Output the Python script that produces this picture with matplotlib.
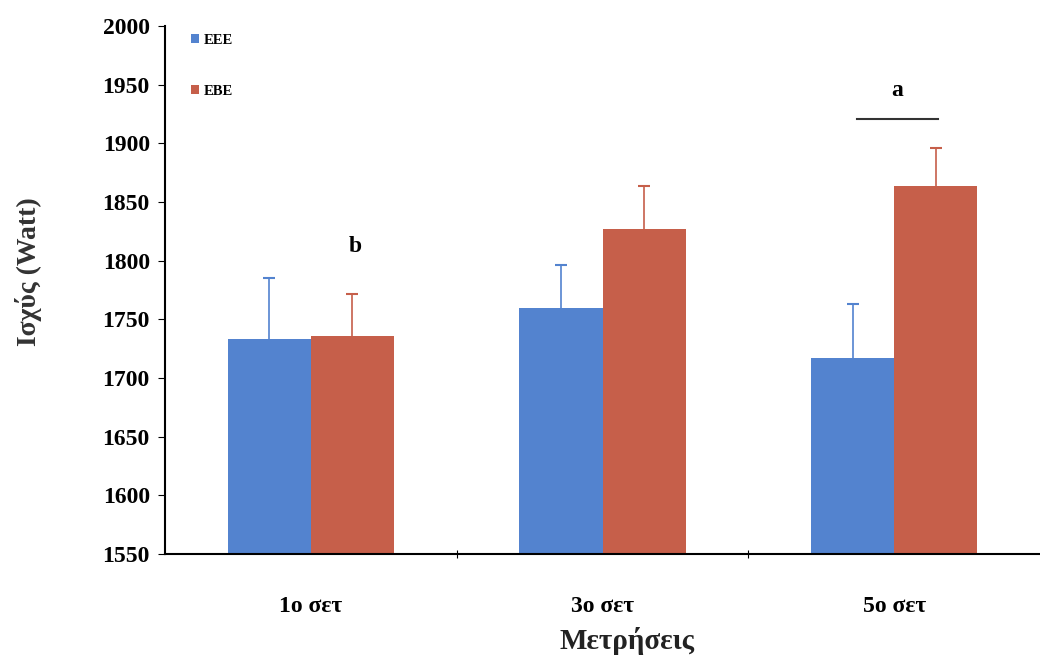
import matplotlib.pyplot as plt
import numpy as np

# Data
categories = ["1ο σετ", "3ο σετ", "5ο σετ"]
eee_means = [1733, 1760, 1717]
eee_err = [52, 36, 46]
ebe_means = [1736, 1827, 1864]
ebe_err = [36, 37, 32]

plt.rcParams['font.family'] = ['Liberation Serif', 'DejaVu Serif']
plt.rcParams['font.weight'] = 'bold'

blue = '#5383CF'
red = '#C65F4A'

fig = plt.figure(figsize=(10.4, 6.66), dpi=100)
ax = fig.add_axes([0.1587, 0.168, 0.8413, 0.793])

x = np.arange(len(categories))
w = 0.285

ax.bar(x - w / 2, eee_means, w, color=blue, label='EEE', zorder=2)
ax.bar(x + w / 2, ebe_means, w, color=red, label='EBE', zorder=2)
# one-sided error bars (upper only)
for xs, m, e, c in [(x - w / 2, eee_means, eee_err, blue),
                    (x + w / 2, ebe_means, ebe_err, red)]:
    eb = ax.errorbar(xs, m, yerr=[np.zeros(3), e], fmt='none', ecolor=c,
                     elinewidth=1.2, capsize=4, capthick=1.5, zorder=1)
    eb[1][0].set_visible(False)

ax.set_ylim(1550, 2000)
ax.set_xlim(-0.5, 2.5)
ax.set_yticks(np.arange(1550, 2001, 50))
ax.set_xticks([0.5, 1.5])
ax.set_xticklabels([])
ax.set_xticks(x, minor=True)
ax.set_xticklabels(categories, minor=True, fontsize=17, fontweight='bold')
ax.tick_params(axis='x', which='minor', length=0, pad=30)
ax.tick_params(axis='x', which='major', length=6, direction='inout')
ax.tick_params(axis='y', labelsize=17, length=5, pad=6)
for lab in ax.get_yticklabels():
    lab.set_fontweight('bold')

ax.spines['top'].set_visible(False)
ax.spines['right'].set_visible(False)
ax.spines['left'].set_linewidth(1.5)
ax.spines['bottom'].set_linewidth(1.5)

fig.text(29 / 1040, 1 - 272 / 666, 'Ισχύς (Watt)', rotation=90, fontsize=20,
         fontweight='bold', ha='center', va='center', color='#333333')
fig.text(627 / 1040, 1 - 641 / 666, 'Μετρήσεις', fontsize=21,
         fontweight='bold', ha='center', va='center', color='#222222')

# significance marks
ax.text(0.151, 1812, 'b', fontsize=17, fontweight='bold', ha='center', va='center')
ax.text(2.009, 1945, 'a', fontsize=17, fontweight='bold', ha='center', va='center')
ax.plot([1.872, 2.15], [1921, 1921], color='#333333', lw=1.5)

ax.legend(loc='upper left', bbox_to_anchor=(0.015, 1.01), frameon=False,
          fontsize=10.5, handlelength=0.55, handleheight=0.55, handletextpad=0.3,
          labelspacing=2.6)

plt.savefig('out.png', dpi=100)
plt.close()
